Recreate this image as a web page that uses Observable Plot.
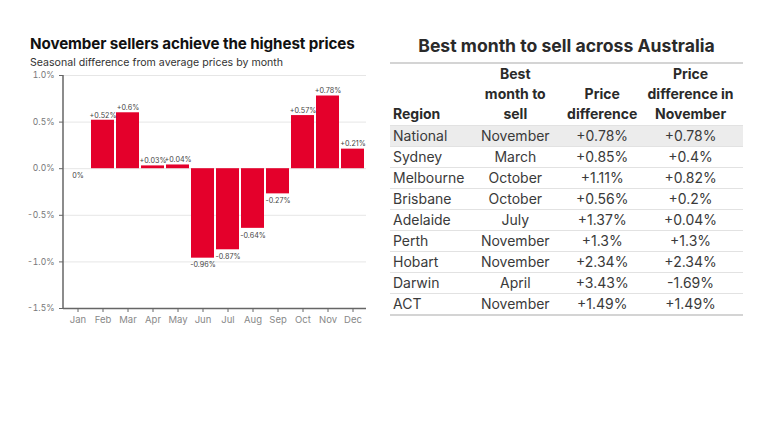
<!DOCTYPE html>
<html>
<head>
<meta charset="utf-8">
<script src="https://cdn.jsdelivr.net/npm/d3@7"></script>
<script src="https://cdn.jsdelivr.net/npm/@observablehq/plot@0.6"></script>
<style>
  html, body { margin: 0; padding: 0; background: #fff; }
  body { width: 768px; height: 432px; position: relative; overflow: hidden; font-family: Inter, "Noto Sans", sans-serif; color: #2b2b2b; }
  #title { position: absolute; left: 30px; top: 34px; font-size: 15.2px; font-weight: 700; color: #111; letter-spacing: -0.1px; }
  #subtitle { position: absolute; left: 30px; top: 56px; font-size: 10.6px; color: #333; }
  #chart { position: absolute; left: 0; top: 66px; }
  #ttitle { position: absolute; left: 390px; width: 353px; top: 35px; text-align: center; font-size: 17.6px; font-weight: 700; color: #2a2a2a; }
  #tbl { position: absolute; left: 390px; top: 62px; width: 353px; border-collapse: collapse; font-size: 14px; color: #3a3a3a; }
  #tbl thead tr { border-top: 2px solid #d4d4d4; }
  #tbl th { font-weight: 700; line-height: 20px; padding: 0 0 1px 0; vertical-align: bottom; color: #2a2a2a; }
  #tbl td { height: 20px; line-height: 20px; padding: 0; border-top: 1px solid #e2e2e2; }
  #tbl tbody tr:last-child { border-bottom: 2px solid #d4d4d4; }
  #tbl tr.hl td { background: #ececec; }
  .c0 { text-align: left; padding-left: 3px !important; }
  .c1, .c2, .c3 { text-align: center; }
</style>
</head>
<body>
<div id="title">November sellers achieve the highest prices</div>
<div id="subtitle">Seasonal difference from average prices by month</div>
<div id="chart"></div>
<div id="ttitle">Best month to sell across Australia</div>
<table id="tbl"></table>
<script>
const months = ["Jan","Feb","Mar","Apr","May","Jun","Jul","Aug","Sep","Oct","Nov","Dec"];
const diffs = [0, 0.52, 0.6, 0.03, 0.04, -0.96, -0.87, -0.64, -0.27, 0.57, 0.78, 0.21];
const yTicks = [-1.5, -1.0, -0.5, 0, 0.5, 1.0];

const regions = ["National","Sydney","Melbourne","Brisbane","Adelaide","Perth","Hobart","Darwin","ACT"];
const bestMonths = ["November","March","October","October","July","November","November","April","November"];
const priceDiff = ["+0.78%","+0.85%","+1.11%","+0.56%","+1.37%","+1.3%","+2.34%","+3.43%","+1.49%"];
const novDiff = ["+0.78%","+0.4%","+0.82%","+0.2%","+0.04%","+1.3%","+2.34%","-1.69%","+1.49%"];
const headers = ["Region","Best<br>month to<br>sell","Price<br>difference","Price<br>difference in<br>November"];

const data = months.map((m, i) => ({month: m, value: diffs[i]}));
const fmt = v => v === 0 ? "0%" : (v > 0 ? "+" : "") + v + "%";

// left axis line drawn from the y scale
const yAxisLine = (index, scales, values, dims) => {
  const y = scales.y;
  const x0 = dims.marginLeft;
  const line = d3.create("svg:line")
    .attr("x1", x0).attr("x2", x0)
    .attr("y1", y(yTicks[yTicks.length - 1])).attr("y2", y(yTicks[0]))
    .attr("stroke", "#666").attr("stroke-width", 1.5);
  return line.node();
};

const chart = Plot.plot({
  width: 370,
  height: 262,
  marginTop: 9,
  marginBottom: 20,
  marginLeft: 63,
  marginRight: 4,
  style: { fontFamily: "Inter, 'Noto Sans', sans-serif", background: "transparent" },
  x: { domain: months, padding: 0.1, label: null },
  y: { domain: [-1.5, 1.0], label: null },
  marks: [
    Plot.gridY(yTicks, { stroke: "#e6e6e6", strokeOpacity: 1 }),
    Plot.barY(data, { x: "month", y: "value", fill: "#e4002b" }),
    Plot.text(data.filter(d => d.value > 0), { x: "month", y: "value", text: d => fmt(d.value), dy: -5, fontSize: 7.2, fill: "#444" }),
    Plot.text(data.filter(d => d.value <= 0), { x: "month", y: "value", text: d => fmt(d.value), dy: 7, fontSize: 7.2, fill: "#444" }),
    Plot.axisY({ ticks: yTicks, tickFormat: d => d.toFixed(1) + "%", tickSize: 4, fontSize: 8.5, color: "#777", stroke: "#666", label: null }),
    yAxisLine,
    Plot.ruleY([-1.5], { stroke: "#666", strokeWidth: 1.5 }),
    Plot.axisX({ tickSize: 4, fontSize: 9.5, color: "#888", stroke: "#666", tickPadding: 4, label: null })
  ]
});
document.getElementById("chart").appendChild(chart);

// table
const tbl = document.getElementById("tbl");
const colW = [72, 103, 72, 106];
let html = "<colgroup>" + colW.map(w => `<col style="width:${w}px">`).join("") + "</colgroup>";
html += "<thead><tr>" + headers.map((h, i) => `<th class="c${i}">${h}</th>`).join("") + "</tr></thead><tbody>";
regions.forEach((r, i) => {
  html += `<tr class="${i === 0 ? "hl" : ""}"><td class="c0">${r}</td><td class="c1">${bestMonths[i]}</td><td class="c2">${priceDiff[i]}</td><td class="c3">${novDiff[i]}</td></tr>`;
});
html += "</tbody>";
tbl.innerHTML = html;
</script>
</body>
</html>
